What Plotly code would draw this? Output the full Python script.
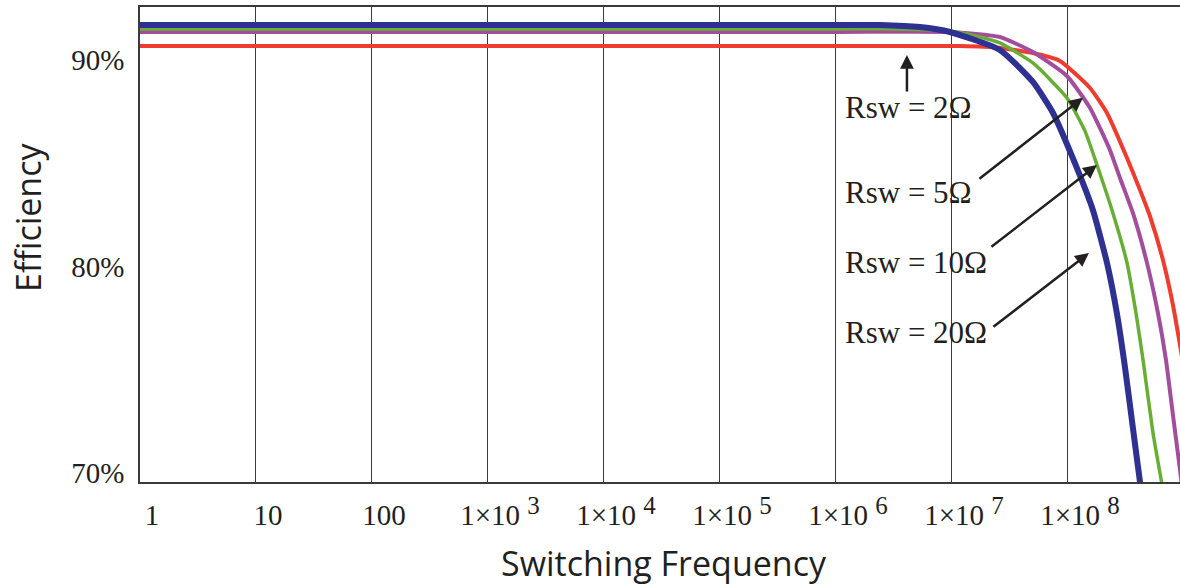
import plotly.graph_objects as go

# Efficiency vs switching frequency for four switch resistances
freq_blue = [1, 1e3, 1e6, 2.39e6, 5.3e6, 9.6e6, 2.59e7, 4.99e7, 7.43e7, 1.10e8, 1.64e8, 2.17e8, 2.64e8, 3.10e8, 3.63e8, 4.18e8, 4.75e8]
eff_blue = [92.13, 92.13, 92.13, 92.13, 92.03, 91.79, 90.92, 89.37, 87.87, 85.69, 83.17, 80.61, 78.18, 75.57, 72.62, 70.00, 67.92]

freq_green = [1, 1e3, 1e6, 3.56e6, 9.6e6, 1.74e7, 2.59e7, 4.99e7, 9.8e7, 1.40e8, 1.78e8, 2.44e8, 3.23e8, 3.86e8, 4.44e8, 5.41e8, 6.59e8, 7.45e8]
eff_green = [91.94, 91.94, 91.94, 91.94, 91.84, 91.55, 91.26, 90.29, 88.60, 87.00, 85.35, 83.03, 80.61, 78.18, 75.91, 72.37, 69.61, 67.68]

freq_purple = [1, 1e3, 1e6, 9.6e6, 2.59e7, 4.99e7, 9.8e7, 1.55e8, 2.30e8, 2.81e8, 3.63e8, 4.80e8, 5.97e8, 7.00e8, 8.04e8, 9.25e8, 1.06e9]
eff_purple = [91.79, 91.79, 91.79, 91.79, 91.55, 90.82, 89.66, 88.11, 86.08, 84.72, 83.03, 80.61, 78.18, 75.91, 73.24, 70.58, 67.92]

freq_red = [1, 1e3, 1e6, 1.17e7, 2.59e7, 4.99e7, 8.53e7, 1.55e8, 2.17e8, 3.23e8, 4.18e8, 5.09e8, 6.59e8, 8.04e8, 9.25e8, 1.13e9]
eff_red = [91.11, 91.11, 91.11, 91.11, 91.02, 90.77, 90.39, 89.08, 87.87, 85.69, 84.14, 82.88, 80.75, 78.57, 76.63, 73.73]

x_tickvals = [1, 10, 100, 1e3, 1e4, 1e5, 1e6, 1e7, 1e8]
x_exponents = [3, 4, 5, 6, 7, 8]
x_ticktext = ["1", "10", "100"] + [
    "1×10 <span style='font-size:25px;baseline-shift:45%'>" + str(p) + "</span>" for p in x_exponents
]
y_tickvals = [70, 80, 90]
y_ticktext = ["70%", "80%", "90%"]

rsw_labels = ["Rsw = 2Ω", "Rsw = 5Ω", "Rsw = 10Ω", "Rsw = 20Ω"]

serif = "Liberation Serif"
sans = "Open Sans"
ink = "#231f20"

fig = go.Figure()
series = [
    (freq_red, eff_red, "#EE3D30", 4),
    (freq_purple, eff_purple, "#A24E9C", 4),
    (freq_green, eff_green, "#68AE36", 3.5),
    (freq_blue, eff_blue, "#2E3192", 6),
]
for fx, fy, col, w in series:
    fig.add_trace(go.Scatter(x=fx, y=fy, mode="lines",
                             line=dict(color=col, width=w, shape="spline", smoothing=0.5),
                             hoverinfo="skip", showlegend=False))

# resistance labels (x in log10 frequency)
label_y = [88.11, 84.04, 80.65, 77.26]
for txt, ly in zip(rsw_labels, label_y):
    fig.add_annotation(x=6.06, y=ly, text=txt, showarrow=False, xanchor="left", yanchor="middle",
                       font=dict(family=serif, size=31, color=ink))

# arrows: tip position and tail offset in pixels
arrows = [
    (6.612, 90.68, 0, 38),
    (8.129, 88.60, -105, 82),
    (8.250, 85.35, -107, 83),
    (8.181, 81.09, -97, 75),
]
for ax_, ay_, dx, dy in arrows:
    fig.add_annotation(x=ax_, y=ay_, ax=dx, ay=dy, text="", showarrow=True,
                       arrowhead=2, arrowsize=1.1, arrowwidth=2.5, arrowcolor=ink)

# axis titles
fig.add_annotation(xref="paper", yref="paper", x=0.504, y=-0.1705, text="Switching Frequency",
                   showarrow=False, xanchor="center", yanchor="middle",
                   font=dict(family=sans, size=34, color=ink))
fig.add_annotation(xref="paper", yref="paper", x=-0.1077, y=0.558, text="Efficiency",
                   showarrow=False, xanchor="center", yanchor="middle", textangle=-90,
                   font=dict(family=sans, size=34, color=ink))

fig.update_layout(
    width=1180, height=586,
    margin=dict(l=140, r=0, t=7, b=104),
    plot_bgcolor="white", paper_bgcolor="white",
    showlegend=False,
)
fig.update_xaxes(
    type="log", range=[0, 8.966],
    tickvals=x_tickvals, ticktext=x_ticktext,
    tickfont=dict(family=serif, size=29, color=ink),
    ticklabelshift=12, ticklabelstandoff=6,
    showgrid=True, gridcolor="#3a3a3a", gridwidth=1.3,
    showline=True, linecolor="#3a3a3a", linewidth=1.5, mirror=True,
    ticks="", zeroline=False,
)
fig.update_yaxes(
    range=[70, 93.0],
    tickvals=y_tickvals, ticktext=y_ticktext,
    tickfont=dict(family=serif, size=29, color=ink),
    ticklabelshift=-9, ticklabelstandoff=8,
    showgrid=False, showline=True, linecolor="#3a3a3a", linewidth=1.5,
    ticks="", zeroline=False,
)

fig.write_html("out.html")
